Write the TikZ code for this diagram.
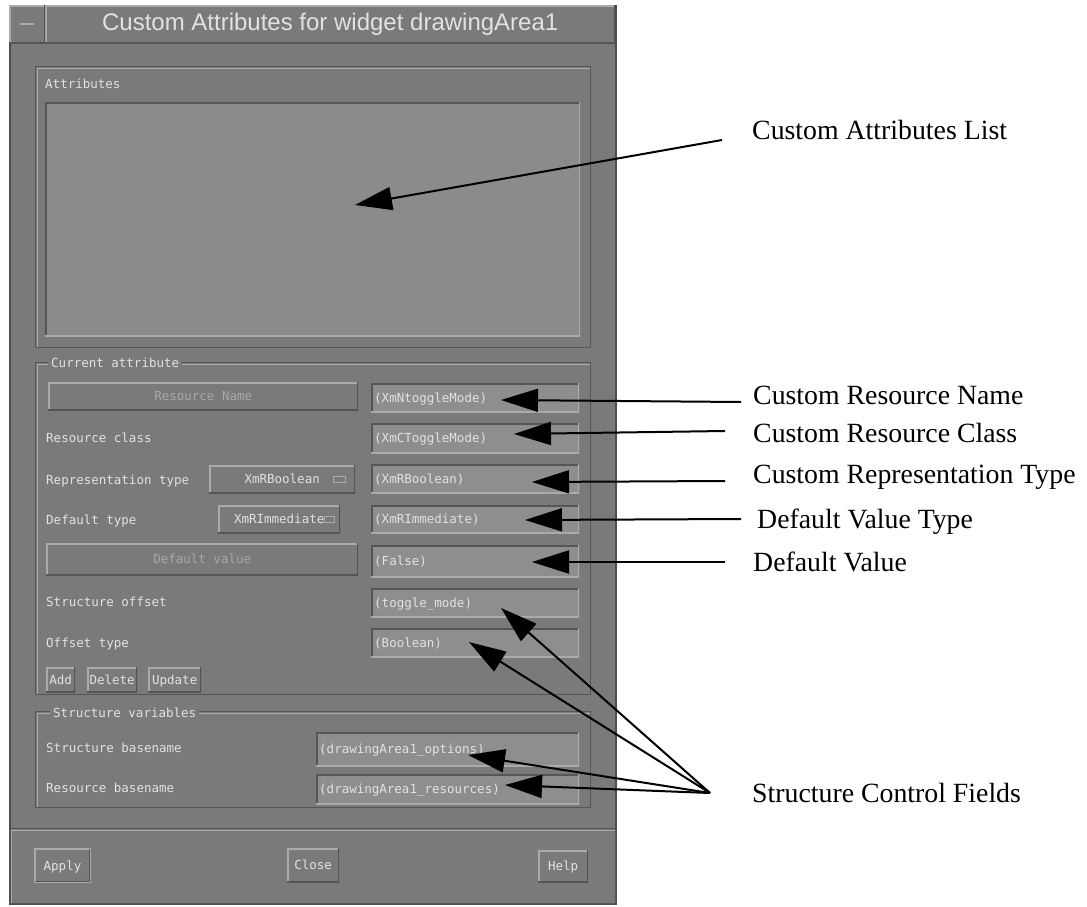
\documentclass[tikz,border=0pt]{standalone}
\usepackage{fontspec}
\setmainfont{Liberation Serif}
\newfontfamily\uifont{DejaVu Sans Mono}
\newfontfamily\titlefont{Liberation Sans}
\usetikzlibrary{arrows.meta}
\definecolor{winbg}{HTML}{7A7A7A}
\definecolor{listbg}{HTML}{8B8B8B}
\definecolor{fieldbg}{HTML}{8E8E8E}
\definecolor{hilite}{HTML}{ABABAB}
\definecolor{shadow}{HTML}{555555}
\definecolor{uitext}{HTML}{E2E2E2}
\definecolor{dimtext}{HTML}{A9A9A9}
\begin{document}
\begin{tikzpicture}[x=1pt,y=-1pt,
  raised/.style={path picture={
    \draw[hilite,line width=3pt] (path picture bounding box.south west) -- (path picture bounding box.north west) -- (path picture bounding box.north east);
    \draw[shadow,line width=3pt] (path picture bounding box.south west) -- (path picture bounding box.south east) -- (path picture bounding box.north east);}},
  sunken/.style={path picture={
    \draw[shadow,line width=3pt] (path picture bounding box.south west) -- (path picture bounding box.north west) -- (path picture bounding box.north east);
    \draw[hilite,line width=3pt] (path picture bounding box.south west) -- (path picture bounding box.south east) -- (path picture bounding box.north east);}},
  etched/.style={draw=shadow,line width=1.2pt,anchor=north west,inner sep=0pt,
    path picture={\draw[hilite,line width=1.2pt] ([shift={(1.6pt,-1.6pt)}]path picture bounding box.north west) rectangle ([shift={(-0.2pt,0.2pt)}]path picture bounding box.south east);}},
  ui/.style={font=\uifont\fontsize{12.5}{13}\selectfont,text=uitext,text height=9pt,text depth=0pt},
  uilabel/.style={ui,anchor=west,inner sep=0pt},
  framelabel/.style={ui,anchor=west,inner xsep=3pt,inner ysep=1pt,fill=winbg},
  field/.style={ui,sunken,fill=fieldbg,anchor=north west,inner xsep=3pt,inner ysep=0pt,align=left},
  button/.style={ui,raised,fill=winbg,anchor=north west,inner sep=0pt},
  dim/.style={text=dimtext},
  callout/.style={anchor=west,inner sep=0pt,font=\fontsize{27.8}{30}\selectfont,text height=18pt,text depth=0pt},
  arr/.style={-{Triangle[length=37pt,width=23pt]},line width=2pt,black}
]
\useasboundingbox (0,0) rectangle (1087,907);
% window
\node[fill=winbg,draw=black!70,line width=2pt,anchor=north west,inner sep=0pt,minimum width=606pt,minimum height=898pt] (win) at (9,5) {};
\node[raised,fill=winbg,anchor=north west,inner sep=0pt,minimum width=570pt,minimum height=38pt,font=\titlefont\fontsize{24}{24}\selectfont,text=uitext] (title) at (45,5) {Custom Attributes for widget drawingArea1};
\node[raised,fill=winbg,anchor=north west,inner sep=0pt,minimum width=36pt,minimum height=38pt] (minbox) at (9,5) {};
\node[fill=hilite,inner sep=0pt,minimum width=14pt,minimum height=2pt] (minbar) at (minbox.center) {};
% Attributes frame
\node[etched,minimum width=555pt,minimum height=281pt] (attrframe) at (35,66) {};
\node[uilabel] (attrlbl) at (45,84) {Attributes};
\node[sunken,fill=listbg,anchor=north west,inner sep=0pt,minimum width=535pt,minimum height=234pt] (list) at (45,102) {};
% Current attribute frame
\node[etched,minimum width=555pt,minimum height=332pt] (curframe) at (35,362) {};
\node[framelabel] (curlbl) at (48,363) {Current attribute};
\node[button,dim,minimum width=310pt,minimum height=28pt] (bname) at (48,382) {Resource Name};
\node[field,text width=202pt,minimum height=29pt] (fname) at (371,383) {(XmNtoggleMode)};
\node[uilabel] (lclass) at (46,438) {Resource class};
\node[field,text width=202pt,minimum height=30pt] (fclass) at (371,423) {(XmCToggleMode)};
\node[uilabel] (lrep) at (46,480) {Representation type};
\node[button,minimum width=146pt,minimum height=28pt] (orep) at (209,465) {XmRBoolean\hspace{30pt}};
\node[draw=hilite,fill=winbg,line width=1pt,inner sep=0pt,minimum width=12pt,minimum height=6pt] (irep) at ([xshift=-16pt]orep.east) {};
\node[field,text width=202pt,minimum height=29pt] (frep) at (371,464) {(XmRBoolean)};
\node[uilabel] (ldef) at (46,520) {Default type};
\node[button,minimum width=122pt,minimum height=28pt] (odef) at (218,505) {XmRImmediate\hspace{18pt}};
\node[draw=hilite,fill=winbg,line width=1pt,inner sep=0pt,minimum width=10pt,minimum height=6pt] (idef) at ([xshift=-11pt]odef.east) {};
\node[field,text width=202pt,minimum height=28pt] (fdef) at (371,505) {(XmRImmediate)};
\node[button,dim,minimum width=312pt,minimum height=32pt] (bdv) at (46,543) {Default value};
\node[field,text width=202pt,minimum height=32pt] (fdv) at (371,545) {(False)};
\node[uilabel] (loff) at (46,602) {Structure offset};
\node[field,text width=202pt,minimum height=29pt] (foff) at (371,588) {(toggle\_mode)};
\node[uilabel] (lotype) at (46,643) {Offset type};
\node[field,text width=202pt,minimum height=29pt] (fotype) at (371,628) {(Boolean)};
\node[button,minimum width=29pt,minimum height=25pt] (badd) at (46,667) {Add};
\node[button,minimum width=50pt,minimum height=25pt] (bdel) at (87,667) {Delete};
\node[button,minimum width=53pt,minimum height=25pt] (bupd) at (148,667) {Update};
% Structure variables frame
\node[etched,minimum width=555pt,minimum height=96pt] (svframe) at (35,711) {};
\node[framelabel] (svlbl) at (50,713) {Structure variables};
\node[uilabel] (lsb) at (46,748) {Structure basename};
\node[field,text width=257pt,minimum height=34pt] (fsb) at (316,732) {(drawingArea1\_options)};
\node[uilabel] (lrb) at (46,788) {Resource basename};
\node[field,text width=257pt,minimum height=30pt] (frb) at (316,774) {(drawingArea1\_resources)};
% bottom area
\node[etched,minimum width=606pt,minimum height=75pt] (bottomsep) at (9,828) {};
\node[button,draw=hilite,line width=1pt,minimum width=56pt,minimum height=34pt] (bapply) at (34,848) {Apply};
\node[button,minimum width=52pt,minimum height=34pt] (bclose) at (287,848) {Close};
\node[button,minimum width=50pt,minimum height=32pt] (bhelp) at (538,850) {Help};
% callouts
\node[callout] (cList) at (752,130) {Custom Attributes List};
\node[callout] (cName) at (753,395) {Custom Resource Name};
\node[callout] (cClass) at (753,433) {Custom Resource Class};
\node[callout] (cRep) at (753,474) {Custom Representation Type};
\node[callout] (cDVT) at (757,519) {Default Value Type};
\node[callout] (cDV) at (753,562) {Default Value};
\node[callout] (cSCF) at (752,793) {Structure Control Fields};
\coordinate (tList) at (355,205);
\coordinate (tName) at (501,400);
\coordinate (tClass) at (514,434);
\coordinate (tRep) at (532,482);
\coordinate (tDVT) at (525,520);
\coordinate (tDV) at (532,562);
\coordinate (tSO) at (501,608);
\coordinate (tOT) at (469,642);
\coordinate (tSB) at (468,755);
\coordinate (tRB) at (505,785);
\coordinate (hub) at ([xshift=-42pt]cSCF.west);
\draw[arr] ([shift={(-30,10)}]cList.west) -- (tList);
\draw[arr] ([shift={(-12,7)}]cName.west) -- (tName);
\draw[arr] ([shift={(-28,-2)}]cClass.west) -- (tClass);
\draw[arr] ([shift={(-28,7)}]cRep.west) -- (tRep);
\draw[arr] ([shift={(-16,0)}]cDVT.west) -- (tDVT);
\draw[arr] ([shift={(-28,0)}]cDV.west) -- (tDV);
\draw[arr] (hub) -- (tSO);
\draw[arr] (hub) -- (tOT);
\draw[arr] (hub) -- (tSB);
\draw[arr] (hub) -- (tRB);
\end{tikzpicture}
\end{document}
